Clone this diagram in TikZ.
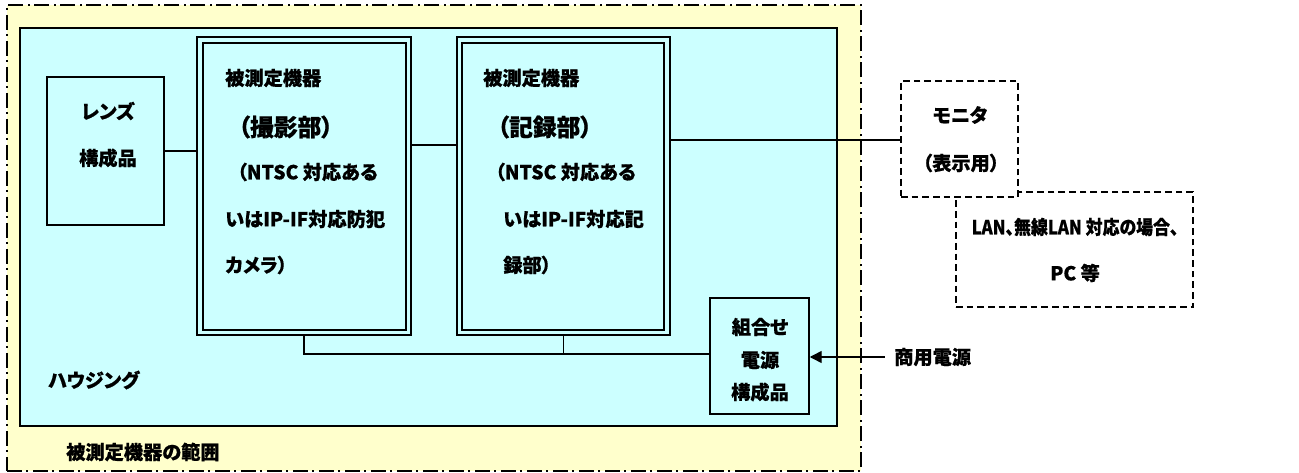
\documentclass[tikz,border=0pt]{standalone}
\usepackage{fontspec}
\setmainfont{Noto Sans CJK JP}[RawFeature=+palt, BoldFeatures={FakeBold=0.6}]
\usetikzlibrary{fit,arrows.meta,calc}
\definecolor{rangebg}{HTML}{FFFFCC}
\definecolor{housebg}{HTML}{CCFFFF}
\begin{document}
\begin{tikzpicture}[x=0.75pt,y=-0.75pt,
  font=\bfseries\fontsize{14.4pt}{16pt}\selectfont,
  frame/.style={inner sep=0pt, line width=1.1pt},
  rangebox/.style={frame, draw, fill=rangebg, line width=1pt, dash pattern=on 11pt off 3.5pt on 1.5pt off 3.5pt},
  housebox/.style={frame, draw, fill=housebg},
  plainbox/.style={frame, draw},
  extbox/.style={frame, draw, fill=white, line width=1pt, dash pattern=on 5pt off 3pt},
  lbl/.style={anchor=west, inner sep=0pt},
  ctr/.style={inner sep=0pt},
  big/.style={font=\bfseries\fontsize{17.8pt}{19pt}\selectfont},
  conn/.style={line width=1.1pt},
]
\useasboundingbox (0,0) rectangle (1299,473);
% frames
\node[rangebox, fit={(7,5) (861,471)}] (range) {};
\node[housebox, fit={(20,28) (837,426)}] (house) {};
\node[plainbox, fit={(47,77) (164,225)}] (lens) {};
\node[plainbox, fit={(197,37) (411,335)}] (cam) {};
\node[plainbox, fit={(203,43) (406,330)}] (camin) {};
\node[plainbox, fit={(457,37) (670,335)}] (rec) {};
\node[plainbox, fit={(462,43) (664,330)}] (recin) {};
\node[plainbox, fit={(710,298) (809,414)}] (pwr) {};
\node[extbox, fit={(956,192) (1193,307)}] (pc) {};
\node[extbox, fit={(901,81) (1018,197)}] (mon) {};
% texts
\node[ctr] (lens1) at (108,111) {レンズ};
\node[ctr] (lens2) at (108,158) {構成品};
\node[lbl] (cam1) at (225,78) {被測定機器};
\node[lbl,big] (cam2) at (238,127) {（撮影部）};
\node[lbl] (cam3) at (237,172) {（NTSC 対応ある};
\node[lbl] (cam4) at (225,219) {いはIP-IF対応防犯};
\node[lbl] (cam5) at (225,265) {カメラ）};
\node[lbl] (rec1) at (483,78) {被測定機器};
\node[lbl,big] (rec2) at (497,127) {（記録部）};
\node[lbl] (rec3) at (495,172) {（NTSC 対応ある};
\node[lbl] (rec4) at (503,219) {いはIP-IF対応記};
\node[lbl] (rec5) at (503,265) {録部）};
\node[ctr] (mon1) at (960,115) {モニタ};
\node[ctr] (mon2) at (961,163) {（表示用）};
\node[ctr] (pc1) at (1075,227) {\scalebox{0.88}[1]{LAN、無線LAN 対応の場合、}};
\node[ctr] (pc2) at (1075,273) {PC 等};
\node[ctr] (pwr1) at (760,327) {組合せ};
\node[ctr] (pwr2) at (760,360) {電源};
\node[ctr] (pwr3) at (760,392) {構成品};
\node[lbl] (house1) at (48,380) {ハウジング};
\node[lbl] (range1) at (66,452) {被測定機器の範囲};
\node[lbl] (ac) at (894,357) {商用電源};
% connectors
\draw[conn] (lens.east) -- (lens.east -| cam.west);
\draw[conn] (cam.east |- 0,145) -- (rec.west |- 0,145);
\draw[conn] (rec.east |- 0,140) -- (mon.west |- 0,140);
\draw[conn] (cam.south) |- (pwr.west |- 0,354);
\draw[conn] (rec.south) -- (rec.south |- 0,354);
\draw[conn, -{Triangle[length=9pt,width=9pt]}] ([xshift=-7pt]ac.west) -- (pwr.east |- ac.west);
\end{tikzpicture}
\end{document}
